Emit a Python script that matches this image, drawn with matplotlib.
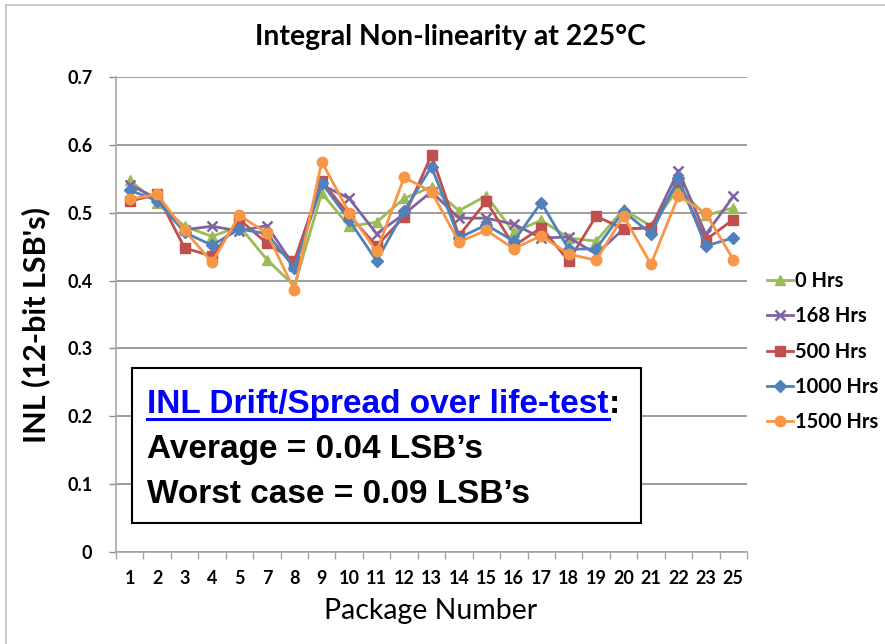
import matplotlib
matplotlib.use("Agg")
import matplotlib.pyplot as plt
from matplotlib.patches import Rectangle
from matplotlib.lines import Line2D

# package numbers on the x axis (6 and 24 are not in the test)
packages = ["1", "2", "3", "4", "5", "7", "8", "9", "10", "11", "12", "13",
            "14", "15", "16", "17", "18", "19", "20", "21", "22", "23", "25"]

# INL values, one list per life-test duration
inl_0 = [0.548, 0.514, 0.480, 0.465, 0.480, 0.431, 0.392, 0.529, 0.480, 0.486,
         0.521, 0.538, 0.503, 0.525, 0.471, 0.489, 0.463, 0.458, 0.505, 0.480,
         0.536, 0.496, 0.507]
inl_168 = [0.541, 0.521, 0.475, 0.480, 0.473, 0.481, 0.421, 0.541, 0.521, 0.469,
           0.498, 0.531, 0.492, 0.492, 0.483, 0.463, 0.464, 0.439, 0.476, 0.478,
           0.562, 0.468, 0.524]
inl_500 = [0.517, 0.527, 0.448, 0.436, 0.490, 0.455, 0.429, 0.547, 0.496, 0.451,
           0.494, 0.585, 0.466, 0.517, 0.451, 0.478, 0.429, 0.495, 0.476, 0.478,
           0.546, 0.460, 0.490]
inl_1000 = [0.533, 0.518, 0.471, 0.452, 0.476, 0.469, 0.419, 0.544, 0.489, 0.429,
            0.502, 0.568, 0.463, 0.482, 0.458, 0.515, 0.446, 0.447, 0.502, 0.469,
            0.551, 0.451, 0.463]
inl_1500 = [0.520, 0.527, 0.474, 0.427, 0.496, 0.470, 0.386, 0.575, 0.500, 0.443,
            0.552, 0.531, 0.457, 0.474, 0.447, 0.466, 0.439, 0.430, 0.495, 0.424,
            0.525, 0.499, 0.431]

labels = ["0 Hrs", "168 Hrs", "500 Hrs", "1000 Hrs", "1500 Hrs"]
series = [inl_0, inl_168, inl_500, inl_1000, inl_1500]
colors = ["#9BBB59", "#8064A2", "#C0504D", "#4F81BD", "#F79646"]
markers = ["^", "x", "s", "D", "o"]
msizes = [7.5, 7.5, 7, 6, 7.5]

W, H = 885, 644
fig = plt.figure(figsize=(W / 100, H / 100), dpi=100)

def fx(px):
    return px / W

def fy(py):
    return (H - py) / H

# plot area in pixels: x 116..747, y 77..552
ax = fig.add_axes([fx(116), fy(552), fx(747) - fx(116), fy(77) - fy(552)])

x = list(range(len(packages)))
for vals, lab, c, m, ms in zip(series, labels, colors, markers, msizes):
    ax.plot(x, vals, color=c, marker=m, markersize=ms, linewidth=2.0,
            markeredgewidth=1.8 if m == "x" else 1.0, label=lab)

ax.set_ylim(0, 0.7)
ax.set_xlim(-0.5, len(packages) - 0.5)
ax.set_yticks([0, 0.1, 0.2, 0.3, 0.4, 0.5, 0.6, 0.7])
ax.set_yticklabels(["0", "0.1", "0.2", "0.3", "0.4", "0.5", "0.6", "0.7"])
ax.set_xticks(x)
ax.set_xticklabels(packages)
ax.set_xticks([i - 0.5 for i in range(len(packages) + 1)], minor=True)

ax.grid(axis="y", color="#8C8C8C", linewidth=1.2)
ax.set_axisbelow(True)
for s in ["top", "right"]:
    ax.spines[s].set_visible(False)
for s in ["left", "bottom"]:
    ax.spines[s].set_color("#A6A6A6")
    ax.spines[s].set_linewidth(1.2)

ax.tick_params(axis="y", length=5, width=1.0, color="#8C8C8C", pad=12)
ax.tick_params(axis="x", which="major", length=0, pad=13)
ax.tick_params(axis="x", which="minor", length=5, width=1.0, color="#A6A6A6")
for t in ax.get_xticklabels() + ax.get_yticklabels():
    t.set_fontfamily(["Lato", "DejaVu Sans"])
    t.set_fontweight("bold")
    t.set_fontsize(13)

# titles
fig.text(fx(450), fy(37), "Integral Non-linearity at 225°C", ha="center",
         va="center", fontsize=20.4, fontweight="bold",
         family=["Lato", "DejaVu Sans"])
fig.text(fx(431), fy(611), "Package Number", ha="center", va="center",
         fontsize=20.5, family=["Lato", "DejaVu Sans"])
fig.text(fx(36), fy(325), "INL (12-bit LSB's)", ha="center", va="center",
         rotation=90, fontsize=22, fontweight="bold",
         family=["Lato", "DejaVu Sans"])

# light frame of the chart area (only top/left edges are in view)
fig.add_artist(Line2D([fx(6), fx(885)], [fy(5), fy(5)], color="#BFBFBF", linewidth=1.2))
fig.add_artist(Line2D([fx(6), fx(6)], [fy(5), fy(644)], color="#BFBFBF", linewidth=1.2))

# legend
leg = fig.legend(loc="upper left", bbox_to_anchor=(fx(767), fy(271)),
                 frameon=False, borderpad=0, borderaxespad=0,
                 handlelength=1.3, handletextpad=0.1, labelspacing=0.76,
                 prop=dict(family=["Lato", "DejaVu Sans"], size=14.5, weight="bold"))

# annotation box
fig.add_artist(Rectangle((fx(132), fy(523)), fx(641) - fx(132), fy(368) - fy(523),
                         transform=fig.transFigure, facecolor="white",
                         edgecolor="black", linewidth=1.5, zorder=3))
box_font = dict(family=["Liberation Sans", "DejaVu Sans"], fontweight="bold",
                fontsize=24, zorder=4)
head = fig.text(fx(147), fy(413), "INL Drift/Spread over life-test", color="#0000FF",
                va="baseline", **box_font)
fig.text(fx(147), fy(458), "Average = 0.04 LSB\u2019s", color="black",
         va="baseline", **box_font)
fig.text(fx(147), fy(503), "Worst case = 0.09 LSB\u2019s", color="black",
         va="baseline", **box_font)

fig.canvas.draw()
bb = head.get_window_extent().transformed(fig.transFigure.inverted())
fig.text(bb.x1, fy(413), ":", color="black", va="baseline", **box_font)
fig.add_artist(Line2D([bb.x0, bb.x1], [fy(419), fy(419)], color="#0000FF",
                      linewidth=2.2, zorder=4))

fig.savefig("out.png", dpi=100)
